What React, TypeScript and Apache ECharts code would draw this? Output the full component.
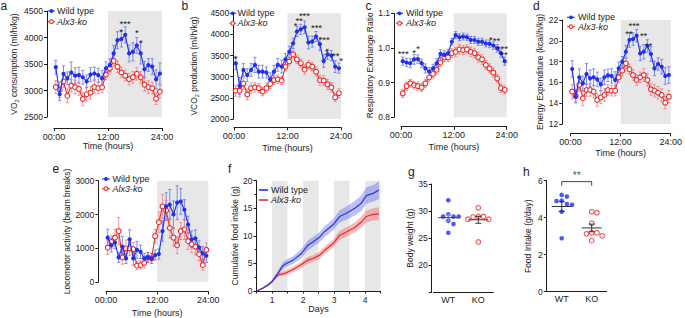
import React, { useEffect, useRef } from 'react';
import * as echarts from 'echarts';

// ---------- shared ----------
const hours = [0.4, 1.26, 2.11, 2.97, 3.83, 4.69, 5.54, 6.4, 7.26, 8.11, 8.97, 9.83, 10.69, 11.54, 12.4, 13.26, 14.11, 14.97, 15.83, 16.69, 17.54, 18.4, 19.26, 20.11, 20.97, 21.83, 22.69, 23.54];
const timeTicks = ['00:00', '12:00', '24:00'];
const groups = ['WT', 'KO'];

// ---------- a: VO2 ----------
const vo2WT = [3440, 2930, 3315, 3230, 3340, 3280, 3290, 3250, 3170, 3300, 3320, 3290, 3230, 3420, 3480, 3700, 3950, 3970, 4050, 3700, 3730, 3850, 3700, 3400, 3480, 3450, 3210, 3320];
const vo2WTErr = [130, 120, 150, 120, 200, 150, 150, 130, 120, 130, 120, 130, 150, 120, 120, 150, 160, 150, 150, 160, 170, 150, 200, 150, 120, 150, 180, 200];
const vo2KO = [3065, 3015, 3170, 2900, 3090, 3065, 3030, 2840, 2930, 2960, 3065, 3045, 3060, 3300, 3420, 3560, 3450, 3340, 3280, 3215, 3250, 3315, 3250, 3110, 3065, 3045, 2845, 2980];
const vo2KOErr = [120, 150, 110, 130, 120, 130, 120, 130, 130, 120, 120, 110, 100, 100, 90, 100, 110, 100, 100, 110, 110, 120, 110, 120, 120, 110, 110, 120];
const vo2Stars: [number, number, string][] = [[15.8, 4311, '***'], [14.9, 4160, '*'], [18.4, 4140, '*'], [19.3, 3934, '*']];

// ---------- b: VCO2 ----------
const vco2WT = [3317, 2780, 3160, 3040, 3160, 3280, 3120, 3120, 3100, 2940, 3120, 3280, 3240, 3410, 3590, 3790, 4070, 4120, 4170, 3810, 3830, 3950, 3770, 3370, 3530, 3500, 3240, 3200];
const vco2WTErr = [150, 200, 150, 150, 150, 180, 150, 150, 130, 150, 150, 150, 150, 140, 130, 120, 120, 120, 150, 150, 130, 120, 150, 150, 120, 120, 140, 120];
const vco2KO = [2670, 2670, 2840, 2580, 2730, 2750, 2730, 2650, 2730, 2830, 2920, 2940, 2910, 3240, 3360, 3530, 3410, 3320, 3170, 3280, 3240, 3120, 2920, 2910, 2820, 2750, 2510, 2610];
const vco2KOErr = [130, 150, 130, 130, 120, 110, 110, 100, 110, 110, 100, 100, 90, 100, 90, 100, 100, 100, 110, 100, 100, 110, 120, 120, 120, 110, 100, 110];
const vco2Stars: [number, number, string][] = [[0.38, 3474, '*'], [13.8, 4247, '*'], [14.6, 4380, '**'], [15.8, 4500, '***'], [18.5, 4200, '***'], [20.2, 3923, '***'], [20.8, 3650, '*'], [22.8, 3554, '**'], [24.0, 3436, '*']];

// ---------- c: RER ----------
const rerWT = [0.962, 0.958, 0.956, 0.967, 0.968, 0.956, 0.941, 0.932, 0.941, 0.956, 0.983, 0.98, 0.985, 1.018, 1.037, 1.031, 1.033, 1.031, 1.023, 1.023, 1.018, 1.018, 1.013, 1.012, 1.007, 0.999, 0.985, 0.962];
const rerWTErr = [0.012, 0.012, 0.013, 0.014, 0.012, 0.012, 0.013, 0.012, 0.012, 0.013, 0.012, 0.012, 0.011, 0.01, 0.01, 0.01, 0.01, 0.009, 0.01, 0.01, 0.01, 0.01, 0.01, 0.011, 0.011, 0.011, 0.012, 0.012];
const rerKO = [0.869, 0.89, 0.898, 0.893, 0.89, 0.886, 0.898, 0.915, 0.925, 0.937, 0.958, 0.973, 0.973, 0.985, 0.989, 0.996, 0.994, 0.996, 0.989, 0.985, 0.973, 0.967, 0.951, 0.941, 0.929, 0.912, 0.884, 0.879];
const rerKOErr = [0.012, 0.012, 0.011, 0.011, 0.012, 0.012, 0.011, 0.012, 0.012, 0.012, 0.012, 0.012, 0.012, 0.013, 0.013, 0.014, 0.013, 0.013, 0.014, 0.014, 0.014, 0.014, 0.013, 0.013, 0.013, 0.012, 0.012, 0.012];
const rerStars: [number, number, string][] = [[0.5, 0.989, '***'], [2.95, 0.992, '*'], [3.86, 1.004, '*'], [20.4, 1.031, '*'], [21.7, 1.028, '**'], [23.0, 1.004, '***'], [23.4, 0.986, '**']];

// ---------- d: Energy expenditure ----------
const eeWT = [17.29, 14.63, 16.49, 15.91, 16.81, 16.39, 16.49, 16.29, 15.81, 16.49, 16.68, 16.62, 16.23, 17.35, 17.99, 18.95, 20.08, 20.17, 20.49, 18.79, 18.95, 19.5, 18.73, 17.35, 17.77, 17.51, 16.62, 16.71];
const eeWTErr = [0.8, 0.6, 0.8, 0.7, 1.0, 0.8, 0.8, 0.7, 0.6, 0.7, 0.6, 0.7, 0.8, 0.6, 0.5, 0.6, 0.7, 0.6, 0.6, 0.7, 0.7, 0.6, 0.7, 0.7, 0.6, 0.7, 0.8, 0.8];
const eeKO = [15.11, 14.69, 15.75, 14.47, 15.27, 15.27, 15.11, 14.31, 14.56, 14.79, 15.27, 15.2, 15.2, 16.49, 17.13, 17.83, 17.26, 16.71, 16.23, 16.49, 16.71, 16.23, 15.33, 15.2, 15.01, 14.79, 14.05, 14.63];
const eeKOErr = [0.7, 0.6, 0.6, 0.7, 0.6, 0.6, 0.6, 0.6, 0.6, 0.6, 0.5, 0.5, 0.5, 0.5, 0.5, 0.5, 0.5, 0.5, 0.5, 0.5, 0.6, 0.6, 0.6, 0.6, 0.6, 0.6, 0.6, 0.6];
const eeStars: [number, number, string][] = [[14.0, 20.94, '**'], [15.2, 21.7, '***'], [17.5, 20.75, '**'], [18.7, 19.7, '**']];

// ---------- e: Locomotor activity ----------
const actWT = [1315, 1090, 1170, 730, 1050, 700, 1265, 700, 955, 895, 700, 730, 700, 800, 830, 1510, 2240, 2290, 2000, 2350, 2385, 2140, 1700, 1265, 1295, 1020, 850, 780];
const actWTErr = [250, 200, 180, 150, 300, 150, 280, 200, 250, 200, 150, 150, 150, 150, 150, 300, 400, 450, 400, 500, 380, 300, 250, 250, 250, 200, 200, 200];
const actKO = [1020, 1190, 1315, 1510, 730, 995, 995, 975, 490, 505, 565, 730, 700, 1360, 1770, 2240, 2120, 1600, 1315, 1090, 1510, 1560, 1215, 1120, 1050, 830, 505, 955];
const actKOErr = [200, 180, 250, 400, 200, 250, 200, 200, 120, 120, 150, 150, 150, 200, 300, 350, 300, 300, 250, 250, 250, 300, 250, 250, 250, 200, 150, 200];

// ---------- f: cumulative food intake ----------
const fDays = [0.5, 0.7, 0.87, 1.0, 1.19, 1.35, 1.46, 1.68, 1.95, 2.16, 2.32, 2.54, 2.7, 2.97, 3.18, 3.4, 3.67, 3.88, 4.04, 4.26, 4.45];
const fWT = [0, 0.5, 1.1, 1.7, 3.2, 4.6, 5.0, 5.6, 6.8, 8.3, 8.9, 9.8, 10.8, 12.0, 13.5, 14.1, 15.0, 15.9, 17.3, 17.7, 18.3];
const fWTsem = [0, 0.1, 0.2, 0.3, 0.5, 0.6, 0.6, 0.7, 0.8, 0.9, 0.9, 0.9, 1.0, 1.0, 1.1, 1.2, 1.3, 1.4, 1.5, 1.5, 1.6];
const fKO = [0, 0.5, 1.1, 1.7, 2.9, 3.1, 3.3, 3.9, 4.8, 5.6, 5.9, 6.5, 7.4, 8.6, 10.1, 10.7, 11.5, 12.5, 13.5, 13.9, 14.0];
const fKOsem = [0, 0.1, 0.15, 0.2, 0.3, 0.4, 0.4, 0.5, 0.55, 0.6, 0.6, 0.65, 0.7, 0.7, 0.8, 0.85, 0.9, 1.0, 1.1, 1.1, 1.2];
const fDark = [[1, 1.5], [2, 2.5], [3, 3.5], [4, 4.5]];

// ---------- g: body weight ----------
const bwWT = [32.0, 29.0, 29.0, 29.0, 29.4, 28.2, 27.6, 26.0];
const bwKO = [30.6, 29.0, 29.0, 28.9, 28.5, 28.5, 28.3, 24.3];

// ---------- h: food intake ----------
const fiWT = [5.23, 5.14, 4.92, 4.9, 4.74, 4.7, 4.32, 2.89];
const fiKO = [4.32, 4.27, 3.7, 3.19, 3.19, 3.13, 3.02, 2.76];
const fiSig = { from: 1, to: 2, level: 5.95, drop: 0.22, text: '**' };

// ---------- styling ----------
const FONT = '"Liberation Sans", Arial, Helvetica, sans-serif';
const INK = '#1c1c1c';
const BLUE = '#1e30f0';
const RED = '#ee2a2a';
const BLUE_ERR = '#7480f3';
const RED_ERR = '#f08a8a';
const SHADE = '#e7e7e7';

type TimePanel = {
  left: number; top: number; width: number; height: number;
  yMin: number; yMax: number; yInt: number; yOff: number; xOff: number;
  yName: string; yGap: number; xGap: number;
  wt: number[]; wtErr: number[]; ko: number[]; koErr: number[];
  stars: [number, number, string][]; yFmt?: (v: number) => string;
};

const timePanels: TimePanel[] = [
  { left: 54, top: 11, width: 108, height: 106, yMin: 2500, yMax: 4500, yInt: 500, yOff: 7, xOff: 11,
    yName: '{n|VO}{s|2}{n| consumption (ml/h/kg)}', yGap: 27, xGap: 13.5,
    wt: vo2WT, wtErr: vo2WTErr, ko: vo2KO, koErr: vo2KOErr, stars: vo2Stars },
  { left: 234, top: 13.3, width: 107, height: 105.7, yMin: 2000, yMax: 4500, yInt: 500, yOff: 0.7, xOff: 8.3,
    yName: '{n|VCO}{s|2}{n| production (ml/h/kg)}', yGap: 34, xGap: 16,
    wt: vco2WT, wtErr: vco2WTErr, ko: vco2KO, koErr: vco2KOErr, stars: vco2Stars },
  { left: 401, top: 13.3, width: 105.7, height: 104, yMin: 0.8, yMax: 1.1, yInt: 0.1, yOff: 7, xOff: 9.4,
    yName: 'Respiratory Exchange Ratio', yGap: 16, xGap: 15.5,
    wt: rerWT, wtErr: rerWTErr, ko: rerKO, koErr: rerKOErr, stars: rerStars, yFmt: (v) => v.toFixed(1) },
  { left: 570.5, top: 20, width: 102.5, height: 104, yMin: 12, yMax: 22, yInt: 2, yOff: 8.2, xOff: 9.3,
    yName: 'Energy Expenditure (kcal/h/kg)', yGap: 16, xGap: 15.5,
    wt: eeWT, wtErr: eeWTErr, ko: eeKO, koErr: eeKOErr, stars: eeStars },
  { left: 106, top: 180.7, width: 102.3, height: 102.6, yMin: 0, yMax: 3000, yInt: 1000, yOff: 7.7, xOff: 9.4,
    yName: 'Locomotor activity (beam breaks)', yGap: 22, xGap: 16.5,
    wt: actWT, wtErr: actWTErr, ko: actKO, koErr: actKOErr, stars: [] },
];

const axisLineCommon = { show: true, onZero: false, lineStyle: { color: INK, width: 1 } };
const axisTickCommon = { show: true, length: 3, lineStyle: { color: INK, width: 1 } };
const yNameStyle = {
  fontSize: 8.5, color: INK, fontFamily: FONT,
  rich: {
    n: { fontSize: 8.5, color: INK, fontFamily: FONT, lineHeight: 10 },
    s: { fontSize: 5.5, color: INK, fontFamily: FONT, verticalAlign: 'bottom', lineHeight: 6, padding: [0, 0, -1, 0] },
  },
};
const xNameStyle = { fontSize: 9, color: INK, fontFamily: FONT };

function errorSeries(gi: number, vals: number[], errs: number[], color: string) {
  return {
    type: 'custom', xAxisIndex: gi, yAxisIndex: gi, z: 2, silent: true,
    data: hours.map((h, k) => [h, vals[k] - errs[k], vals[k] + errs[k]]),
    renderItem: (_p: any, api: any) => {
      const x = api.value(0);
      const lo = api.coord([x, api.value(1)]);
      const hi = api.coord([x, api.value(2)]);
      const w = 1.6;
      const st = { stroke: color, lineWidth: 0.9 };
      return {
        type: 'group', children: [
          { type: 'line', shape: { x1: lo[0], y1: lo[1], x2: hi[0], y2: hi[1] }, style: st },
          { type: 'line', shape: { x1: lo[0] - w, y1: lo[1], x2: lo[0] + w, y2: lo[1] }, style: st },
          { type: 'line', shape: { x1: hi[0] - w, y1: hi[1], x2: hi[0] + w, y2: hi[1] }, style: st },
        ],
      };
    },
  };
}

function starSeries(gi: number, stars: [number, number, string][], size = 9.5, color = INK) {
  return {
    type: 'custom', xAxisIndex: gi, yAxisIndex: gi, z: 6, silent: true, clip: false,
    data: stars.map((s) => [s[0], s[1]]),
    renderItem: (p: any, api: any) => {
      const c = api.coord([api.value(0), api.value(1)]);
      return {
        type: 'text', x: c[0], y: c[1] + 2,
        style: { text: stars[p.dataIndex][2], fontSize: size, fontFamily: FONT, fill: color, align: 'center', verticalAlign: 'middle' },
      };
    },
  };
}

function bandSeries(gi: number, xs: number[], mean: number[], sem: number[], fill: string) {
  return {
    type: 'custom', xAxisIndex: gi, yAxisIndex: gi, z: 2, silent: true,
    data: [[xs[0], mean[0]]],
    renderItem: (_p: any, api: any) => {
      const up = xs.map((d, i) => api.coord([d, mean[i] + sem[i]]));
      const lo = xs.map((d, i) => api.coord([d, mean[i] - sem[i]])).reverse();
      return { type: 'polygon', shape: { points: up.concat(lo) }, style: { fill } };
    },
  };
}

function swarm(values: number[], center: number, pxPerY: number, pxPerX: number, diam: number) {
  const placed: { x: number; y: number }[] = [];
  const xs = new Array(values.length).fill(center);
  const order = values.map((_, i) => i).sort((a, b) => values[b] - values[a]);
  for (const i of order) {
    const y = values[i] * pxPerY;
    for (let k = 0; k < 40; k++) {
      const off = k === 0 ? 0 : (k % 2 === 1 ? 1 : -1) * Math.ceil(k / 2) * diam * 0.5;
      if (placed.every((p) => Math.hypot(p.x - off, p.y - y) >= diam)) {
        placed.push({ x: off, y });
        xs[i] = center + off / pxPerX;
        break;
      }
    }
  }
  return xs;
}

function meanSem(v: number[]) {
  const m = v.reduce((a, b) => a + b, 0) / v.length;
  const sd = Math.sqrt(v.reduce((a, b) => a + (b - m) * (b - m), 0) / (v.length - 1));
  return [m, sd / Math.sqrt(v.length)];
}

function meanSeries(gi: number, x: number, vals: number[], semColor: string, lineColor: string) {
  const [m, s] = meanSem(vals);
  return {
    type: 'custom', xAxisIndex: gi, yAxisIndex: gi, z: 5, silent: true,
    data: [[x, m, s]],
    renderItem: (_p: any, api: any) => {
      const xv = api.value(0), mv = api.value(1), sv = api.value(2);
      const c = api.coord([xv, mv]);
      const lo = api.coord([xv, mv - sv]);
      const hi = api.coord([xv, mv + sv]);
      const st = { stroke: semColor, lineWidth: 1 };
      return {
        type: 'group', children: [
          { type: 'line', shape: { x1: lo[0], y1: lo[1], x2: hi[0], y2: hi[1] }, style: st },
          { type: 'line', shape: { x1: lo[0] - 3, y1: lo[1], x2: lo[0] + 3, y2: lo[1] }, style: st },
          { type: 'line', shape: { x1: hi[0] - 3, y1: hi[1], x2: hi[0] + 3, y2: hi[1] }, style: st },
          { type: 'line', shape: { x1: c[0] - 10, y1: c[1], x2: c[0] + 10, y2: c[1] }, style: { stroke: lineColor, lineWidth: 1 } },
        ],
      };
    },
  };
}

function legendEls(x1: number, x2: number, textX: number, y1: number, y2: number, dots: boolean) {
  const rows = [
    { y: y1, color: BLUE, text: 'Wild type', italic: false, filled: true },
    { y: y2, color: RED, text: 'Alx3-ko', italic: true, filled: false },
  ];
  const els: any[] = [];
  rows.forEach((r) => {
    els.push({ type: 'line', z: 100, shape: { x1, y1: r.y, x2, y2: r.y }, style: { stroke: r.color, lineWidth: dots ? 1.1 : 1.6 } });
    if (dots) {
      els.push({
        type: 'circle', z: 101, shape: { cx: (x1 + x2) / 2, cy: r.y, r: 1.9 },
        style: r.filled ? { fill: r.color } : { fill: '#fff', stroke: r.color, lineWidth: 1.1 },
      });
    }
    els.push({
      type: 'text', z: 100, x: textX, y: r.y,
      style: { text: r.text, fontSize: 9, fontFamily: FONT, fontStyle: r.italic ? 'italic' : 'normal', fill: INK, align: 'left', verticalAlign: 'middle' },
    });
  });
  return els;
}

function letter(t: string, x: number, y: number) {
  return { type: 'text', z: 100, x, y, style: { text: t, fontSize: 12, fontFamily: FONT, fill: INK, align: 'left', verticalAlign: 'middle' } };
}

function buildOption() {
  const grid: any[] = [];
  const xAxis: any[] = [];
  const yAxis: any[] = [];
  const series: any[] = [];

  timePanels.forEach((p, gi) => {
    grid.push({ left: p.left, top: p.top, width: p.width, height: p.height });
    xAxis.push({
      gridIndex: gi, type: 'value', min: 0, max: 24, interval: 12, offset: p.xOff,
      axisLine: axisLineCommon, axisTick: axisTickCommon, splitLine: { show: false },
      axisLabel: { fontSize: 9, margin: 4, color: INK, fontFamily: FONT, formatter: (v: number) => timeTicks[Math.round(v / 12)] },
      name: 'Time (hours)', nameLocation: 'middle', nameGap: p.xGap, nameTextStyle: xNameStyle,
    });
    yAxis.push({
      gridIndex: gi, type: 'value', min: p.yMin, max: p.yMax, interval: p.yInt, offset: p.yOff,
      axisLine: axisLineCommon, axisTick: axisTickCommon, splitLine: { show: false },
      axisLabel: { fontSize: 8.5, margin: 4, color: INK, fontFamily: FONT, formatter: p.yFmt ? p.yFmt : (v: number) => String(v) },
      name: p.yName, nameLocation: 'middle', nameGap: p.yGap, nameRotate: 90, nameTextStyle: yNameStyle,
    });
    series.push(errorSeries(gi, p.ko, p.koErr, RED_ERR));
    series.push(errorSeries(gi, p.wt, p.wtErr, BLUE_ERR));
    series.push({
      type: 'line', xAxisIndex: gi, yAxisIndex: gi, z: 3, silent: true, name: 'Alx3-ko',
      data: hours.map((h, k) => [h, p.ko[k]]),
      symbol: 'circle', symbolSize: 4.8, itemStyle: { color: '#fff', borderColor: RED, borderWidth: 1.1 },
      lineStyle: { color: RED, width: 1.1 },
      markArea: { silent: true, itemStyle: { color: SHADE }, data: [[{ xAxis: 12 }, { xAxis: 24 }]] },
    });
    series.push({
      type: 'line', xAxisIndex: gi, yAxisIndex: gi, z: 4, silent: true, name: 'Wild type',
      data: hours.map((h, k) => [h, p.wt[k]]),
      symbol: 'circle', symbolSize: 4.2, itemStyle: { color: BLUE },
      lineStyle: { color: BLUE, width: 1.1 },
    });
    if (p.stars.length) series.push(starSeries(gi, p.stars));
  });

  // f
  const fi = 5;
  grid.push({ left: 256.5, top: 180.7, width: 124, height: 110.3 });
  xAxis.push({
    gridIndex: fi, type: 'value', min: 0.5, max: 4.5, interval: 0.5,
    axisLine: axisLineCommon, axisTick: { ...axisTickCommon, length: 2.5 }, splitLine: { show: false },
    axisLabel: { fontSize: 8.5, margin: 4, color: INK, fontFamily: FONT, formatter: (v: number) => (Math.abs(v - Math.round(v)) < 1e-6 ? String(Math.round(v)) : '') },
    name: 'Days', nameLocation: 'middle', nameGap: 13, nameTextStyle: xNameStyle,
  });
  yAxis.push({
    gridIndex: fi, type: 'value', min: 0, max: 20, interval: 5,
    axisLine: axisLineCommon, axisTick: axisTickCommon, splitLine: { show: false },
    minorTick: { show: true, splitNumber: 2, length: 2, lineStyle: { color: INK } },
    axisLabel: { fontSize: 8.5, margin: 4, color: INK, fontFamily: FONT },
    name: 'Cumulative food intake (g)', nameLocation: 'middle', nameGap: 15, nameRotate: 90, nameTextStyle: yNameStyle,
  });
  series.push(bandSeries(fi, fDays, fKO, fKOsem, 'rgba(240,95,95,0.42)'));
  series.push(bandSeries(fi, fDays, fWT, fWTsem, 'rgba(95,105,235,0.42)'));
  series.push({
    type: 'line', xAxisIndex: fi, yAxisIndex: fi, z: 3, silent: true, symbol: 'none',
    data: fDays.map((d, i) => [d, fKO[i]]), lineStyle: { color: RED, width: 1.2 },
    markArea: { silent: true, itemStyle: { color: SHADE }, data: fDark.map((r) => [{ xAxis: r[0] }, { xAxis: r[1] }]) },
  });
  series.push({
    type: 'line', xAxisIndex: fi, yAxisIndex: fi, z: 4, silent: true, symbol: 'none',
    data: fDays.map((d, i) => [d, fWT[i]]), lineStyle: { color: '#2a38e0', width: 1.2 },
  });

  // g and h
  const dotPanels = [
    { gi: 6, left: 433.3, top: 184, height: 108.3, yMin: 15, yMax: 35, yInt: 5, yOff: 1.6, name: 'Body weight (g)', gap: 17,
      wt: bwWT, ko: bwKO, hideMin: true, wtSem: '#8a90ee' },
    { gi: 7, left: 546.7, top: 180.7, height: 111, yMin: 0, yMax: 6, yInt: 2, yOff: 0, name: 'Food Intake (g/day)', gap: 14.5,
      wt: fiWT, ko: fiKO, hideMin: false, wtSem: '#333' },
  ];
  dotPanels.forEach((d) => {
    grid.push({ left: d.left, top: d.top, width: 60, height: d.height });
    xAxis.push({
      gridIndex: d.gi, type: 'value', min: 0.5, max: 2.5, interval: 0.5,
      axisLine: axisLineCommon, axisTick: { show: false }, splitLine: { show: false },
      axisLabel: { fontSize: 9, margin: 3, color: INK, fontFamily: FONT, formatter: (v: number) => (Math.abs(v - 1) < 1e-6 ? groups[0] : Math.abs(v - 2) < 1e-6 ? groups[1] : '') },
    });
    yAxis.push({
      gridIndex: d.gi, type: 'value', min: d.yMin, max: d.yMax, interval: d.yInt, offset: d.yOff,
      axisLine: axisLineCommon, axisTick: axisTickCommon, splitLine: { show: false },
      axisLabel: { fontSize: 8.5, margin: 4, color: INK, fontFamily: FONT, formatter: (v: number) => (d.hideMin && v === d.yMin ? '' : String(v)) },
      name: d.name, nameLocation: 'middle', nameGap: d.gap, nameRotate: 90, nameTextStyle: yNameStyle,
    });
    const pxY = d.height / (d.yMax - d.yMin);
    const xsWT = swarm(d.wt, 1, pxY, 30, 5.2);
    const xsKO = swarm(d.ko, 2, pxY, 30, 5.2);
    series.push({
      type: 'scatter', xAxisIndex: d.gi, yAxisIndex: d.gi, z: 3, silent: true,
      data: d.wt.map((v, i) => [xsWT[i], v]), symbolSize: 4.6, itemStyle: { color: BLUE },
    });
    series.push({
      type: 'scatter', xAxisIndex: d.gi, yAxisIndex: d.gi, z: 3, silent: true,
      data: d.ko.map((v, i) => [xsKO[i], v]), symbolSize: 4.6, itemStyle: { color: '#fff', borderColor: RED, borderWidth: 1.1 },
    });
    series.push(meanSeries(d.gi, 1, d.wt, d.wtSem, '#333'));
    series.push(meanSeries(d.gi, 2, d.ko, '#333', '#333'));
  });

  // h significance bracket
  series.push({
    type: 'custom', xAxisIndex: 7, yAxisIndex: 7, z: 5, silent: true, clip: false,
    data: [[fiSig.from, fiSig.to, fiSig.level, fiSig.drop]],
    renderItem: (_p: any, api: any) => {
      const a = api.value(0), b = api.value(1), lv = api.value(2), dr = api.value(3);
      const p1 = api.coord([a, lv - dr]), p2 = api.coord([a, lv]), p3 = api.coord([b, lv]), p4 = api.coord([b, lv - dr]);
      const t = api.coord([(a + b) / 2, lv]);
      return {
        type: 'group', children: [
          { type: 'polyline', shape: { points: [p1, p2, p3, p4] }, style: { stroke: '#444', lineWidth: 1, fill: 'none' } },
          { type: 'text', x: t[0], y: t[1] - 6, style: { text: fiSig.text, fontSize: 10, fontFamily: FONT, fill: '#555', align: 'center', verticalAlign: 'middle' } },
        ],
      };
    },
  });

  const graphicEls: any[] = [
    letter('a', 0.5, 5.5), letter('b', 181.5, 6), letter('c', 365.5, 6), letter('d', 533, 6),
    letter('e', 52.5, 168.5), letter('f', 228, 169), letter('g', 408, 172), letter('h', 523, 172),
    ...legendEls(48, 55, 57, 11, 21.7, true),
    ...legendEls(229.5, 236, 237.5, 13.3, 23.3, true),
    ...legendEls(396, 403, 406, 13.3, 23.3, true),
    ...legendEls(567, 575, 578, 17.3, 26.7, true),
    ...legendEls(102, 110, 112.5, 179, 188.7, true),
    ...legendEls(259, 268, 271, 190, 200, false),
  ];

  return {
    animation: false,
    backgroundColor: '#fff',
    textStyle: { fontFamily: FONT },
    grid, xAxis, yAxis, series,
    graphic: { elements: graphicEls },
  };
}

export default function App() {
  const ref = useRef<HTMLDivElement>(null);
  useEffect(() => {
    document.body.style.margin = '0';
    const chart = echarts.init(ref.current as HTMLDivElement, null, { renderer: 'svg' });
    chart.setOption(buildOption() as any);
    return () => chart.dispose();
  }, []);
  return <div ref={ref} style={{ position: 'absolute', left: 0, top: 0, width: 685, height: 318, background: '#fff' }} />;
}
